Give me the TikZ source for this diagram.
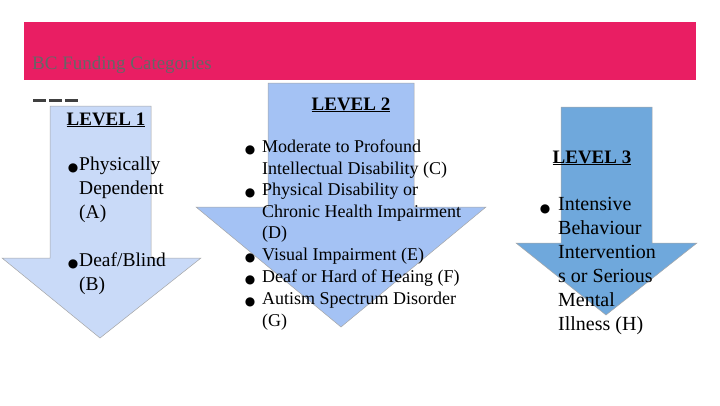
\documentclass[tikz,border=0pt]{standalone}
\usepackage{fontspec}
\setmainfont{Liberation Serif}
\newfontfamily\symfont{DejaVu Sans}
\usetikzlibrary{positioning}
\definecolor{bannerpink}{HTML}{E91E63}
\definecolor{levelone}{HTML}{C9DAF8}
\definecolor{leveltwo}{HTML}{A4C2F4}
\definecolor{levelthree}{HTML}{6FA8DC}
\newcommand{\levelarrow}[9]{% fill, shaft l, shaft r, top, head y, head l, head r, tip x, tip y
  \fill[#1, draw=gray!70, line width=0.5pt] (#2,#4) -- (#3,#4) -- (#3,#5) -- (#7,#5)
    -- (#8,#9) -- (#6,#5) -- (#2,#5) -- cycle;}
\begin{document}
\begin{tikzpicture}[
  x=1pt, y=-1pt,
  every node/.style={inner sep=0pt},
  level/.style={font=\fontsize{19}{20}\selectfont\bfseries, anchor=base},
  dot/.style={font=\symfont\fontsize{12}{12}\selectfont, anchor=base},
  item/.style={anchor=north west, align=left},
  itemone/.style={item, font=\fontsize{19.5}{24}\selectfont},
  itemtwo/.style={item, font=\fontsize{18}{21.5}\selectfont},
  itemthree/.style={item, font=\fontsize{20}{24}\selectfont}
]
\useasboundingbox (0,0) rectangle (720,405);

% Banner
\fill[bannerpink] (24,22) rectangle (696,80);
\node (title) [anchor=base west, font=\fontsize{19}{19}\selectfont, text=black!60] at (32,69) {BC Funding Categories};
\foreach \i in {0,1,2}
  \draw[black!75, line width=3pt] (33+\i*16,100) -- (46+\i*16,100);

% Arrows
\levelarrow{levelone}{50}{151}{106}{258}{2}{201}{100}{338}
\levelarrow{leveltwo}{268}{414}{83}{207}{196}{486}{341}{327}
\levelarrow{levelthree}{561}{652}{107}{243}{516}{697}{606}{315}

% Level 1
\node (lvlone) [level] at (106,125) {\underline{LEVEL 1}};
\node (dotA) [dot] at (73,171) {●};
\node (itemA) [itemone] at (79,157) {Physically\\Dependent\\(A)};
\node (dotB) [dot] at (73,267) {●};
\node (itemB) [itemone] at (79,253) {Deaf/Blind\\(B)};

% Level 2
\node (lvltwo) [level] at (351,110) {\underline{LEVEL 2}};
\node (dotC) [dot] at (250,153) {●};
\node (itemC) [itemtwo] at (262,140) {Moderate to Profound\\Intellectual Disability (C)};
\node (dotD) [dot] at (250,196) {●};
\node (itemD) [itemtwo] at (262,183) {Physical Disability or\\Chronic Health Impairment\\(D)};
\node (dotE) [dot] at (250,261) {●};
\node (itemE) [itemtwo] at (262,248) {Visual Impairment (E)};
\node (dotF) [dot] at (250,283) {●};
\node (itemF) [itemtwo] at (262,270) {Deaf or Hard of Heaing (F)};
\node (dotG) [dot] at (250,305) {●};
\node (itemG) [itemtwo] at (262,292) {Autism Spectrum Disorder\\(G)};

% Level 3
\node (lvlthree) [level] at (592,163) {\underline{LEVEL 3}};
\node (dotH) [dot] at (545,212) {●};
\node (itemH) [itemthree] at (558,197) {Intensive\\Behaviour\\Intervention\\s or Serious\\Mental\\Illness (H)};
\end{tikzpicture}
\end{document}
